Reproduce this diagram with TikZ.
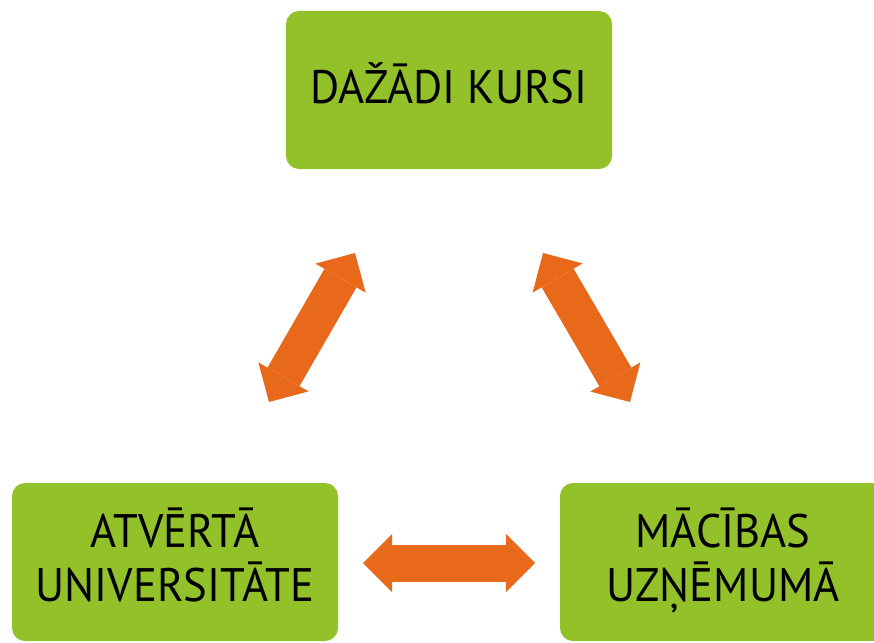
\documentclass[tikz,border=0pt]{standalone}
\usepackage{fontspec}
\setmainfont[FakeStretch=0.95]{PT Sans}
\usetikzlibrary{arrows.meta}
\definecolor{boxgreen}{HTML}{92C12A}
\definecolor{arroworange}{HTML}{E8691A}
\newcommand{\boxlines}[1]{\raisebox{5pt}{\begin{tabular}{@{}c@{}}#1\end{tabular}}}

\begin{document}
\begin{tikzpicture}[x=1pt,y=-1pt,
  box/.style={fill=boxgreen,rounded corners=13pt,minimum width=326pt,minimum height=158pt,
    align=center,inner sep=0pt,font=\fontsize{47}{47}\selectfont},
  bigarrow/.style={draw=arroworange,line width=37pt,
    {Triangle[width=58pt,length=29pt,line width=0pt]}-{Triangle[width=58pt,length=29pt,line width=0pt]}}]
\path[use as bounding box,clip] (0,0) rectangle (874,642);
\node [box] (kursi) at (449,90) {\boxlines{DAŽĀDI KURSI}};
\node [box] (atvert) at (175,562) {\boxlines{ATVĒRTĀ\\UNIVERSITĀTE}};
\node [box] (macibas) at (723,562) {\boxlines{MĀCĪBAS\\UZŅĒMUMĀ}};
\coordinate (la) at (269,402);
\coordinate (lb) at (355,253);
\coordinate (ra) at (543,253);
\coordinate (rb) at (630,402);
\coordinate (ba) at (363,563);
\coordinate (bb) at (535,563);
\draw [bigarrow] (la) -- (lb);
\draw [bigarrow] (ra) -- (rb);
\draw [bigarrow] (ba) -- (bb);
\end{tikzpicture}
\end{document}
